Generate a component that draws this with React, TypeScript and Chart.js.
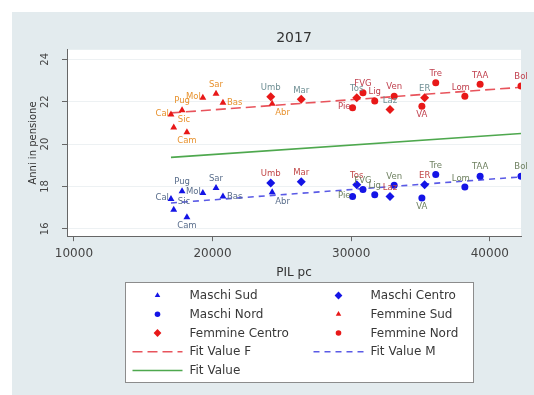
import React, { useEffect, useRef } from 'react';
import { Chart, registerables } from 'chart.js';

Chart.register(...registerables);

// ---------- data ----------
const titolo = '2017';
const regioni = ['Cal', 'Sic', 'Cam', 'Pug', 'Mol', 'Sar', 'Bas', 'Abr', 'Umb', 'Mar', 'Tos', 'Laz', 'ER', 'Pie', 'FVG', 'Lig', 'Ven', 'VA', 'Tre', 'Lom', 'TAA', 'Bol'];
const gruppi = ['S', 'S', 'S', 'S', 'S', 'S', 'S', 'S', 'C', 'C', 'C', 'C', 'C', 'N', 'N', 'N', 'N', 'N', 'N', 'N', 'N', 'N'];
const pilPc = [17000, 17200, 18150, 17800, 19300, 20250, 20750, 24300, 24200, 26400, 30400, 32800, 35300, 30100, 30850, 31700, 33100, 35100, 36100, 38200, 39300, 42250];
const anniF = [21.40, 20.78, 20.56, 21.60, 22.19, 22.38, 21.95, 21.90, 22.23, 22.11, 22.19, 21.63, 22.19, 21.71, 22.42, 22.03, 22.26, 21.79, 22.90, 22.26, 22.82, 22.74];
const anniM = [17.41, 16.90, 16.55, 17.77, 17.69, 17.93, 17.53, 17.72, 18.16, 18.22, 18.08, 17.53, 18.08, 17.53, 17.85, 17.61, 18.05, 17.45, 18.56, 17.97, 18.48, 18.48];
const fitX = [17000, 42250];
const fitF = [21.47, 22.68];
const fitM = [17.22, 18.45];
const fitTot = [19.37, 20.50];
const xTicks = [10000, 20000, 30000, 40000];
const yTicks = [16, 18, 20, 22, 24];
const ordineLegenda = ['Maschi Sud', 'Maschi Centro', 'Maschi Nord', 'Femmine Sud', 'Femmine Centro', 'Femmine Nord', 'Fit Value F', 'Fit Value M', 'Fit Value'];

// ---------- styles (kept apart from the data) ----------
const posEtichetta = ['w', 'ne', 's', 'n', 'w', 'n', 'e', 'se', 'n', 'n', 'n', 'n', 'n', 'w', 'n', 'n', 'n', 's', 'n', 'nw', 'n', 'n'];
const FONT = 'DejaVu Sans';
const BLU = '#1414e6';
const ROSSO = '#e81818';
const stileGruppo: Record<string, { forma: string; r: number }> = {
  S: { forma: 'triangle', r: 4 },
  C: { forma: 'rectRot', r: 4.5 },
  N: { forma: 'circle', r: 3.5 },
};
const raggioLegenda: Record<string, number> = { triangle: 3.2, rectRot: 3.9, circle: 2.8 };
const coloreEtichetta: Record<string, Record<string, string>> = {
  F: { S: '#e8922e', C: '#6f8f94', N: '#c0404e' },
  M: { S: '#5a6e8c', C: '#c24848', N: '#6e8060' },
};
const nomeGruppo: Record<string, string> = { S: 'Sud', C: 'Centro', N: 'Nord' };

function costruisciDatasets() {
  const ds: any[] = [];
  const sessi: [string, string, number[], string][] = [
    ['M', 'Maschi', anniM, BLU],
    ['F', 'Femmine', anniF, ROSSO],
  ];
  for (const [sx, nome, valori, colore] of sessi) {
    for (const g of ['S', 'C', 'N']) {
      const idx = regioni.map((_, i) => i).filter((i) => gruppi[i] === g);
      ds.push({
        type: 'scatter',
        label: `${nome} ${nomeGruppo[g]}`,
        data: idx.map((i) => ({ x: pilPc[i], y: valori[i] })),
        etichette: idx.map((i) => regioni[i]),
        posizioni: idx.map((i) => posEtichetta[i]),
        coloreTesto: coloreEtichetta[sx][g],
        pointStyle: stileGruppo[g].forma,
        pointRadius: stileGruppo[g].r,
        pointBackgroundColor: colore,
        pointBorderColor: colore,
        pointBorderWidth: 0,
        showLine: false,
      });
    }
  }
  const linea = (label: string, ys: number[], colore: string, dash: number[]) => ({
    type: 'line',
    label,
    data: fitX.map((x, i) => ({ x, y: ys[i] })),
    borderColor: colore,
    backgroundColor: colore,
    borderWidth: 1.6,
    borderDash: dash,
    pointRadius: 0,
    fill: false,
    tension: 0,
  });
  ds.push(linea('Fit Value F', fitF, '#e8545c', [10, 5]));
  ds.push(linea('Fit Value M', fitM, '#5a5ae6', [6, 5]));
  ds.push(linea('Fit Value', fitTot, '#4ea84e', []));
  return ds;
}

function simbolo(ctx: CanvasRenderingContext2D, forma: string, x: number, y: number, r: number, colore: string) {
  ctx.fillStyle = colore;
  ctx.beginPath();
  if (forma === 'triangle') {
    ctx.moveTo(x, y - r);
    ctx.lineTo(x + r * 0.866, y + r * 0.5);
    ctx.lineTo(x - r * 0.866, y + r * 0.5);
  } else if (forma === 'rectRot') {
    ctx.moveTo(x, y - r);
    ctx.lineTo(x + r, y);
    ctx.lineTo(x, y + r);
    ctx.lineTo(x - r, y);
  } else {
    ctx.arc(x, y, r, 0, Math.PI * 2);
  }
  ctx.closePath();
  ctx.fill();
}

const sfondoPlugin = {
  id: 'sfondoArea',
  beforeDraw(chart: any) {
    const { ctx, chartArea: ca } = chart;
    ctx.save();
    ctx.fillStyle = '#ffffff';
    ctx.fillRect(ca.left, ca.top, ca.right - ca.left, ca.bottom - ca.top);
    ctx.restore();
  },
};

const etichettePlugin = {
  id: 'etichettePunti',
  afterDatasetsDraw(chart: any) {
    const ctx = chart.ctx;
    ctx.save();
    ctx.font = `8.5px "${FONT}"`;
    chart.data.datasets.forEach((ds: any, di: number) => {
      if (!ds.etichette) return;
      const meta = chart.getDatasetMeta(di);
      ctx.fillStyle = ds.coloreTesto;
      meta.data.forEach((el: any, j: number) => {
        const t = ds.etichette[j];
        const p = ds.posizioni[j];
        let x = el.x, y = el.y;
        ctx.textBaseline = 'middle';
        if (p === 'n') { ctx.textAlign = 'center'; y -= 9; }
        else if (p === 's') { ctx.textAlign = 'center'; y += 9; }
        else if (p === 'w') { ctx.textAlign = 'right'; x -= 2; y -= 1; }
        else if (p === 'e') { ctx.textAlign = 'left'; x += 4; }
        else if (p === 'ne') { ctx.textAlign = 'left'; x += 4; y -= 8; }
        else if (p === 'se') { ctx.textAlign = 'left'; x += 3; y += 9; }
        else if (p === 'nw') { ctx.textAlign = 'center'; x -= 4; y -= 8; }
        ctx.fillText(t, x, y);
      });
    });
    ctx.restore();
  },
};

const legendaPlugin = {
  id: 'legendaStata',
  afterDraw(chart: any) {
    const { ctx, chartArea: ca } = chart;
    const boxW = 348;
    const boxH = 100;
    const left = Math.round((ca.left + ca.right) / 2 - boxW / 2 + 5) + 0.5;
    const top = Math.round(ca.bottom + 46) + 0.5;
    ctx.save();
    ctx.fillStyle = '#ffffff';
    ctx.fillRect(left, top, boxW, boxH);
    ctx.strokeStyle = '#8c8c8c';
    ctx.lineWidth = 1;
    ctx.strokeRect(left, top, boxW, boxH);
    ctx.font = `12px "${FONT}"`;
    ctx.textBaseline = 'middle';
    ctx.textAlign = 'left';
    ordineLegenda.forEach((lab, i) => {
      const ds = chart.data.datasets.find((d: any) => d.label === lab);
      if (!ds) return;
      const col = i % 2;
      const row = Math.floor(i / 2);
      const base = left + 7 + col * 181;
      const y = top + 13 + row * 18.75;
      if (ds.type === 'line') {
        ctx.save();
        ctx.strokeStyle = ds.borderColor;
        ctx.lineWidth = ds.borderWidth;
        ctx.setLineDash(ds.borderDash);
        ctx.beginPath();
        ctx.moveTo(base, y);
        ctx.lineTo(base + 50, y);
        ctx.stroke();
        ctx.restore();
      } else {
        simbolo(ctx, ds.pointStyle, base + 25, y, raggioLegenda[ds.pointStyle], ds.pointBackgroundColor);
      }
      ctx.fillStyle = '#383838';
      ctx.fillText(lab, base + 57, y + 0.5);
    });
    ctx.restore();
  },
};

export default function App() {
  const ref = useRef<HTMLCanvasElement>(null);
  useEffect(() => {
    if (!ref.current) return;
    Chart.defaults.font.family = FONT;
    const chart = new Chart(ref.current, {
      type: 'scatter',
      data: { datasets: costruisciDatasets() },
      options: {
        animation: false,
        responsive: false,
        events: [],
        layout: { padding: { top: 0, left: 7, right: 13, bottom: 111 } },
        plugins: {
          legend: { display: false },
          tooltip: { enabled: false },
          title: {
            display: true,
            text: titolo,
            fullSize: false,
            color: '#333333',
            font: { family: FONT, size: 14, weight: 'normal' },
            padding: { top: 18, bottom: 3 },
          },
        },
        scales: {
          x: {
            type: 'linear',
            min: 9500,
            max: 42250,
            afterBuildTicks: (s: any) => { s.ticks = xTicks.map((v) => ({ value: v })); },
            ticks: { color: '#444', font: { size: 12 }, padding: 5, maxRotation: 0, callback: (v: any) => String(v) },
            grid: { drawOnChartArea: false, drawTicks: true, tickLength: 5, tickColor: '#666' },
            border: { display: true, color: '#666' },
            title: { display: true, text: 'PIL pc', color: '#333', font: { size: 12 }, padding: { top: 0, bottom: 4 } },
          },
          y: {
            type: 'linear',
            min: 15.65,
            max: 24.45,
            afterBuildTicks: (s: any) => { s.ticks = yTicks.map((v) => ({ value: v })); },
            ticks: { color: '#444', font: { size: 10 }, padding: 10, minRotation: 90, maxRotation: 90, crossAlign: 'center', callback: (v: any) => String(v) },
            grid: { color: '#edf1f3', drawTicks: true, tickLength: 5, tickColor: '#666' },
            border: { display: true, color: '#666' },
            title: { display: true, text: 'Anni in pensione', color: '#333', font: { size: 10 }, padding: { top: 8, bottom: -9 } },
          },
        },
      } as any,
      plugins: [sfondoPlugin, etichettePlugin, legendaPlugin],
    });
    return () => chart.destroy();
  }, []);
  return (
    <div style={{ position: 'fixed', left: 12, top: 12, width: 522, height: 383, background: '#e3ebee' }}>
      <canvas ref={ref} width={522} height={383} style={{ display: 'block' }} />
    </div>
  );
}
